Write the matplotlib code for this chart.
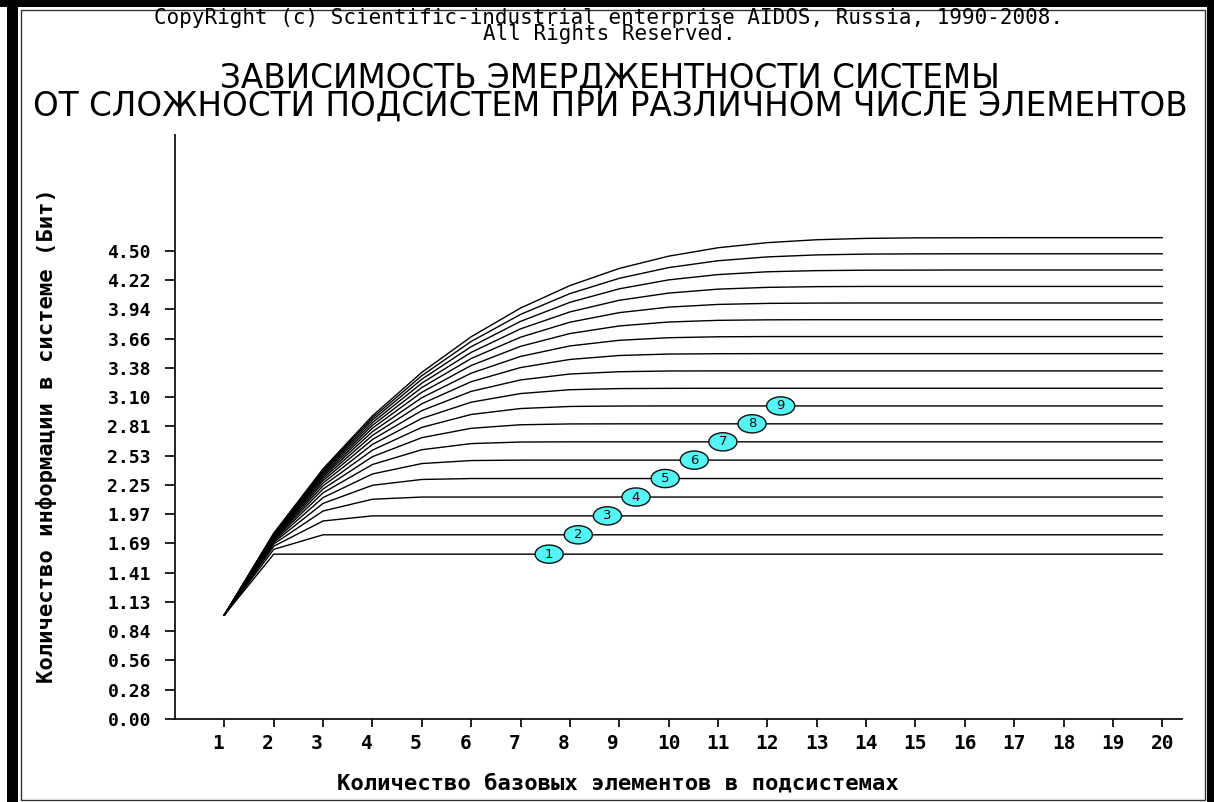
import matplotlib
matplotlib.use("Agg")
import matplotlib.pyplot as plt
from matplotlib.patches import Rectangle, Ellipse
from matplotlib.transforms import ScaledTranslation

# ---------------- data ----------------
x_values = list(range(1, 21))

em_w02 = [1.00, 1.585, 1.585, 1.585, 1.585, 1.585, 1.585, 1.585, 1.585, 1.585,
          1.585, 1.585, 1.585, 1.585, 1.585, 1.585, 1.585, 1.585, 1.585, 1.585]
em_w03 = [1.00, 1.631, 1.771, 1.771, 1.771, 1.771, 1.771, 1.771, 1.771, 1.771,
          1.771, 1.771, 1.771, 1.771, 1.771, 1.771, 1.771, 1.771, 1.771, 1.771]
em_w04 = [1.00, 1.661, 1.904, 1.953, 1.953, 1.953, 1.953, 1.953, 1.953, 1.953,
          1.953, 1.953, 1.953, 1.953, 1.953, 1.953, 1.953, 1.953, 1.953, 1.953]
em_w05 = [1.00, 1.683, 2.000, 2.113, 2.134, 2.134, 2.134, 2.134, 2.134, 2.134,
          2.134, 2.134, 2.134, 2.134, 2.134, 2.134, 2.134, 2.134, 2.134, 2.134]
em_w06 = [1.00, 1.699, 2.073, 2.247, 2.303, 2.312, 2.312, 2.312, 2.312, 2.312,
          2.312, 2.312, 2.312, 2.312, 2.312, 2.312, 2.312, 2.312, 2.312, 2.312]
em_w07 = [1.00, 1.712, 2.129, 2.356, 2.456, 2.485, 2.489, 2.489, 2.489, 2.489,
          2.489, 2.489, 2.489, 2.489, 2.489, 2.489, 2.489, 2.489, 2.489, 2.489]
em_w08 = [1.00, 1.723, 2.175, 2.447, 2.589, 2.648, 2.663, 2.665, 2.665, 2.665,
          2.665, 2.665, 2.665, 2.665, 2.665, 2.665, 2.665, 2.665, 2.665, 2.665]
em_w09 = [1.00, 1.733, 2.212, 2.522, 2.705, 2.795, 2.829, 2.837, 2.838, 2.838,
          2.838, 2.838, 2.838, 2.838, 2.838, 2.838, 2.838, 2.838, 2.838, 2.838]
em_w10 = [1.00, 1.740, 2.243, 2.585, 2.804, 2.928, 2.985, 3.005, 3.009, 3.010,
          3.010, 3.010, 3.010, 3.010, 3.010, 3.010, 3.010, 3.010, 3.010, 3.010]
em_w11 = [1.00, 1.747, 2.270, 2.640, 2.890, 3.046, 3.129, 3.166, 3.177, 3.179,
          3.180, 3.180, 3.180, 3.180, 3.180, 3.180, 3.180, 3.180, 3.180, 3.180]
em_w12 = [1.00, 1.753, 2.293, 2.687, 2.965, 3.150, 3.260, 3.317, 3.339, 3.346,
          3.347, 3.347, 3.347, 3.347, 3.347, 3.347, 3.347, 3.347, 3.347, 3.347]
em_w13 = [1.00, 1.759, 2.313, 2.727, 3.031, 3.243, 3.379, 3.457, 3.495, 3.509,
          3.512, 3.513, 3.513, 3.513, 3.513, 3.513, 3.513, 3.513, 3.513, 3.513]
em_w14 = [1.00, 1.763, 2.331, 2.763, 3.089, 3.325, 3.486, 3.587, 3.641, 3.666,
          3.675, 3.677, 3.677, 3.677, 3.677, 3.677, 3.677, 3.677, 3.677, 3.677]
em_w15 = [1.00, 1.768, 2.346, 2.796, 3.141, 3.399, 3.583, 3.706, 3.779, 3.817,
          3.833, 3.838, 3.839, 3.839, 3.839, 3.839, 3.839, 3.839, 3.839, 3.839]
em_w16 = [1.00, 1.772, 2.361, 2.824, 3.187, 3.466, 3.671, 3.815, 3.907, 3.960,
          3.986, 3.996, 3.999, 4.000, 4.000, 4.000, 4.000, 4.000, 4.000, 4.000]
em_w17 = [1.00, 1.776, 2.374, 2.850, 3.229, 3.525, 3.751, 3.914, 4.026, 4.095,
          4.133, 4.150, 4.157, 4.159, 4.159, 4.159, 4.159, 4.159, 4.159, 4.159]
em_w18 = [1.00, 1.779, 2.385, 2.874, 3.267, 3.580, 3.823, 4.006, 4.136, 4.222,
          4.273, 4.300, 4.311, 4.315, 4.316, 4.317, 4.317, 4.317, 4.317, 4.317]
em_w19 = [1.00, 1.782, 2.396, 2.895, 3.301, 3.630, 3.890, 4.090, 4.237, 4.340,
          4.406, 4.443, 4.462, 4.470, 4.472, 4.473, 4.473, 4.473, 4.473, 4.473]
em_w20 = [1.00, 1.785, 2.406, 2.915, 3.333, 3.675, 3.951, 4.167, 4.332, 4.450,
          4.531, 4.580, 4.608, 4.621, 4.626, 4.627, 4.628, 4.628, 4.628, 4.628]

curves = [em_w02, em_w03, em_w04, em_w05, em_w06, em_w07, em_w08, em_w09, em_w10,
          em_w11, em_w12, em_w13, em_w14, em_w15, em_w16, em_w17, em_w18, em_w19, em_w20]

marker_numbers = ["1", "2", "3", "4", "5", "6", "7", "8", "9"]
marker_x = [7.58, 8.17, 8.76, 9.34, 9.93, 10.52, 11.10, 11.69, 12.27]

y_tick_values = [0.0, 0.28125, 0.5625, 0.84375, 1.125, 1.40625, 1.6875, 1.96875, 2.25,
                 2.53125, 2.8125, 3.09375, 3.375, 3.65625, 3.9375, 4.21875, 4.5]
y_tick_labels = ["0.00", "0.28", "0.56", "0.84", "1.13", "1.41", "1.69", "1.97", "2.25",
                 "2.53", "2.81", "3.10", "3.38", "3.66", "3.94", "4.22", "4.50"]
x_tick_labels = [str(v) for v in x_values]

header_1 = "CopyRight (c) Scientific-industrial enterprise AIDOS, Russia, 1990-2008."
header_2 = "All Rights Reserved."
title_1 = "ЗАВИСИМОСТЬ ЭМЕРДЖЕНТНОСТИ СИСТЕМЫ"
title_2 = "ОТ СЛОЖНОСТИ ПОДСИСТЕМ ПРИ РАЗЛИЧНОМ ЧИСЛЕ ЭЛЕМЕНТОВ"
x_title = "Количество базовых элементов в подсистемах"
y_title = "Количество информации в системе (Бит)"

# ---------------- figure ----------------
W, H = 1214, 802
fig = plt.figure(figsize=(W / 100, H / 100), dpi=100)
fig.patch.set_facecolor("white")


def fx(px):
    return px / W


def fy(py):
    return 1 - py / H


# window frame
fig.patches.append(Rectangle((0, fy(7)), 1, 7 / H, transform=fig.transFigure,
                             facecolor="black", edgecolor="none"))
fig.patches.append(Rectangle((fx(7), 0), 11 / W, 1, transform=fig.transFigure,
                             facecolor="black", edgecolor="none"))
fig.patches.append(Rectangle((fx(1207), 0), 7 / W, 1, transform=fig.transFigure,
                             facecolor="black", edgecolor="none"))
fig.patches.append(Rectangle((fx(20.5), fy(799.5)), (1204.5 - 20.5) / W, (799.5 - 9.5) / H,
                             transform=fig.transFigure, facecolor="none",
                             edgecolor="#333333", linewidth=1.0))

# axes geometry (pixels): y-axis at x=175, x-axis at y=719, top 135, right 1182
ax = fig.add_axes([fx(175), fy(719), (1182 - 175) / W, (719 - 135) / H])
ax.set_xlim(0, 20.4)
ax.set_ylim(0, 5.615)
ax.set_facecolor("white")
for side in ("top", "right"):
    ax.spines[side].set_visible(False)
for side in ("left", "bottom"):
    ax.spines[side].set_linewidth(1.3)
    ax.spines[side].set_color("#111111")

for c in curves:
    ax.plot(x_values, c, color="black", linewidth=1.0, solid_joinstyle="miter",
            zorder=2)

# numbered cyan ellipses
for i, (lab, xm) in enumerate(zip(marker_numbers, marker_x)):
    ym = curves[i][-1]
    ax.add_patch(Ellipse((xm, ym), 0.57, 0.175, facecolor="#55F5F5",
                         edgecolor="#111111", linewidth=1.0, zorder=4))
    ax.text(xm, ym, lab, ha="center", va="center", fontsize=9.5,
            fontfamily="DejaVu Sans", color="#111111", zorder=5)

ax.set_yticks(y_tick_values)
ax.set_yticklabels(y_tick_labels, fontfamily="DejaVu Sans Mono", fontweight="bold",
                   fontsize=13)
ax.set_xticks(x_values)
ax.set_xticklabels(x_tick_labels, fontfamily="DejaVu Sans Mono", fontweight="bold",
                   fontsize=14)
ax.tick_params(axis="y", direction="out", length=7.3, width=1.3, pad=10,
               color="#111111")
ax.tick_params(axis="x", direction="out", length=6, width=1.3, pad=5,
               color="#111111")
for t in ax.get_xticklabels():
    if len(t.get_text()) == 1:
        t.set_transform(t.get_transform() + ScaledTranslation(-0.06, 0, fig.dpi_scale_trans))

# texts
fig.text(fx(609), fy(26), header_1 + "\n" + header_2, ha="center", va="center",
         multialignment="center", linespacing=0.78,
         fontfamily="DejaVu Sans Mono", fontsize=15, color="black")
fig.text(fx(610), fy(92), title_1 + "\n" + title_2, ha="center", va="center",
         multialignment="center", linespacing=0.78,
         fontfamily="DejaVu Sans", fontsize=23.5, color="black")
fig.text(fx(618), fy(783), x_title, ha="center", va="center",
         fontfamily="DejaVu Sans Mono", fontweight="bold", fontsize=16, color="black")
fig.text(fx(47), fy(436), y_title, ha="center", va="center", rotation=90,
         fontfamily="DejaVu Sans Mono", fontweight="bold", fontsize=16, color="black")

fig.savefig("out.png", dpi=100, facecolor="white")
